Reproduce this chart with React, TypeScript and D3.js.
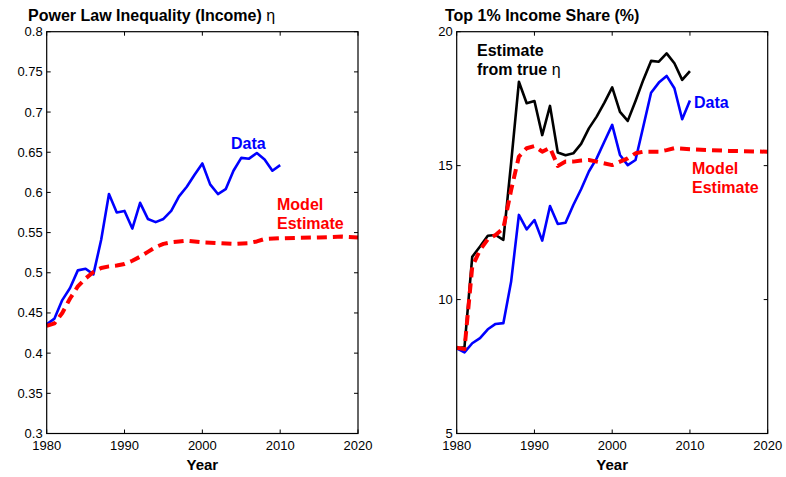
import React from "react";
import * as d3 from "d3";

// ---------- data ----------
const yearsData = d3.range(1980, 2011);
const etaData = [
  0.436, 0.443, 0.466, 0.481, 0.503, 0.505, 0.498, 0.541, 0.598, 0.575,
  0.577, 0.555, 0.587, 0.567, 0.563, 0.567, 0.577, 0.595, 0.607, 0.622,
  0.636, 0.610, 0.598, 0.604, 0.627, 0.643, 0.642, 0.649, 0.641, 0.627,
  0.634,
];
const yearsEtaModel = [
  1980, 1981, 1982, 1983, 1984, 1985, 1986, 1987, 1988, 1989, 1990, 1991,
  1992, 1993, 1994, 1995, 1996, 1997, 1998, 2000, 2002, 2004, 2006, 2007,
  2008, 2010, 2015, 2018, 2020,
];
const etaModel = [
  0.434, 0.437, 0.450, 0.468, 0.483, 0.493, 0.501, 0.506, 0.508, 0.509,
  0.511, 0.515, 0.520, 0.526, 0.532, 0.536, 0.538, 0.539, 0.540, 0.538,
  0.537, 0.536, 0.537, 0.539, 0.542, 0.543, 0.544, 0.545, 0.544,
];

const shareData = [
  8.18, 8.03, 8.37, 8.56, 8.89, 9.09, 9.12, 10.67, 13.16, 12.62, 12.97,
  12.2, 13.49, 12.82, 12.87, 13.53, 14.12, 14.78, 15.27, 15.9, 16.52, 15.4,
  15.02, 15.21, 16.46, 17.72, 18.1, 18.35, 17.89, 16.73, 17.43,
];
const shareTrueEta = [
  8.18, 8.22, 11.6, 11.98, 12.38, 12.41, 12.23, 15.1, 18.13, 17.33, 17.41,
  16.14, 17.23, 15.49, 15.39, 15.46, 15.81, 16.39, 16.83, 17.35, 17.92,
  17.01, 16.67, 17.41, 18.2, 18.91, 18.88, 19.19, 18.82, 18.2, 18.53,
];
const yearsShareModel = [
  1980, 1981, 1982, 1983, 1984, 1985, 1986, 1987, 1988, 1989, 1990, 1991,
  1992, 1993, 1994, 1995, 1996, 1997, 1998, 2000, 2002, 2003, 2004, 2006,
  2007, 2008, 2010, 2015, 2020,
];
const shareModel = [
  8.2, 8.15, 11.23, 11.85, 12.25, 12.41, 12.66, 14.09, 15.34, 15.65, 15.73,
  15.52, 15.67, 14.99, 15.15, 15.15, 15.19, 15.21, 15.15, 15.02, 15.27,
  15.46, 15.52, 15.52, 15.58, 15.65, 15.61, 15.55, 15.52,
];

const xTicks = [1980, 1990, 2000, 2010, 2020];
const etaTicks = [0.3, 0.35, 0.4, 0.45, 0.5, 0.55, 0.6, 0.65, 0.7, 0.75, 0.8];
const shareTicks = [5, 10, 15, 20];

const FONT = "Liberation Sans, Arial, Helvetica, sans-serif";
const TOP = 31.7;
const BOTTOM = 433.5;

type Series = { xs: number[]; ys: number[]; color: string; width: number; dash?: string };

function Panel(props: {
  left: number;
  right: number;
  yDomain: [number, number];
  yTicks: number[];
  yFmt: (v: number) => string;
  title: React.ReactNode;
  titleX: number;
  series: Series[];
  children?: React.ReactNode;
}) {
  const { left, right, yDomain, yTicks, yFmt, title, titleX, series } = props;
  const x = d3.scaleLinear().domain([1980, 2020]).range([left, right]);
  const y = d3.scaleLinear().domain(yDomain).range([BOTTOM, TOP]);
  const tl = 4;
  return (
    <g>
      <text x={titleX} y={21} fontFamily={FONT} fontSize={16} fontWeight="bold">
        {title}
      </text>
      {series.map((s, i) => {
        const line = d3
          .line<number>()
          .x((_, j) => x(s.xs[j]))
          .y((d) => y(d));
        return (
          <path
            key={i}
            d={line(s.ys) || ""}
            fill="none"
            stroke={s.color}
            strokeWidth={s.width}
            strokeDasharray={s.dash}
            strokeLinejoin="round"
          />
        );
      })}
      <rect x={left} y={TOP} width={right - left} height={BOTTOM - TOP} fill="none" stroke="#000" strokeWidth={1.2} />
      {xTicks.map((t) => (
        <g key={"x" + t}>
          <line x1={x(t)} x2={x(t)} y1={BOTTOM} y2={BOTTOM - tl} stroke="#000" />
          <line x1={x(t)} x2={x(t)} y1={TOP} y2={TOP + tl} stroke="#000" />
          <text x={x(t)} y={449.5} textAnchor="middle" fontFamily={FONT} fontSize={13}>
            {t}
          </text>
        </g>
      ))}
      {yTicks.map((t) => (
        <g key={"y" + t}>
          <line x1={left} x2={left + tl} y1={y(t)} y2={y(t)} stroke="#000" />
          <line x1={right} x2={right - tl} y1={y(t)} y2={y(t)} stroke="#000" />
          <text x={left - 4} y={y(t) + 4.5} textAnchor="end" fontFamily={FONT} fontSize={13}>
            {yFmt(t)}
          </text>
        </g>
      ))}
      <text x={(left + right) / 2} y={470} textAnchor="middle" fontFamily={FONT} fontSize={15} fontWeight="bold">
        Year
      </text>
      {props.children}
    </g>
  );
}

export default function App() {
  const fmtEta = (v: number) => String(+v.toFixed(2));
  return (
    <svg
      width={786}
      height={477}
      style={{ position: "absolute", left: 0, top: 0, background: "#fff" }}
    >
      <rect width={786} height={477} fill="#fff" />
      <Panel
        left={46.7}
        right={358}
        yDomain={[0.3, 0.8]}
        yTicks={etaTicks}
        yFmt={fmtEta}
        titleX={28}
        title={
          <>
            Power Law Inequality (Income)
            <tspan fontWeight="normal"> η</tspan>
          </>
        }
        series={[
          { xs: yearsData, ys: etaData, color: "#0000ff", width: 2.6 },
          { xs: yearsEtaModel, ys: etaModel, color: "#ff0000", width: 4, dash: "10,6" },
        ]}
      >
        <text x={231} y={149} fontFamily={FONT} fontSize={16} fontWeight="bold" fill="#0000ff">
          Data
        </text>
        <text x={277} y={210} fontFamily={FONT} fontSize={16} fontWeight="bold" fill="#ff0000">
          Model
        </text>
        <text x={277} y={229} fontFamily={FONT} fontSize={16} fontWeight="bold" fill="#ff0000">
          Estimate
        </text>
      </Panel>
      <Panel
        left={456.7}
        right={767.7}
        yDomain={[5, 20]}
        yTicks={shareTicks}
        yFmt={(v) => String(v)}
        titleX={445}
        title="Top 1% Income Share (%)"
        series={[
          { xs: yearsData, ys: shareTrueEta, color: "#000000", width: 2.6 },
          { xs: yearsData, ys: shareData, color: "#0000ff", width: 2.6 },
          { xs: yearsShareModel, ys: shareModel, color: "#ff0000", width: 4, dash: "10,6" },
        ]}
      >
        <text x={477} y={56} fontFamily={FONT} fontSize={16} fontWeight="bold" fill="#000">
          Estimate
        </text>
        <text x={477} y={75} fontFamily={FONT} fontSize={16} fontWeight="bold" fill="#000">
          from true<tspan fontWeight="normal"> η</tspan>
        </text>
        <text x={694} y={108} fontFamily={FONT} fontSize={16} fontWeight="bold" fill="#0000ff">
          Data
        </text>
        <text x={692} y={174} fontFamily={FONT} fontSize={16} fontWeight="bold" fill="#ff0000">
          Model
        </text>
        <text x={692} y={193} fontFamily={FONT} fontSize={16} fontWeight="bold" fill="#ff0000">
          Estimate
        </text>
      </Panel>
    </svg>
  );
}
